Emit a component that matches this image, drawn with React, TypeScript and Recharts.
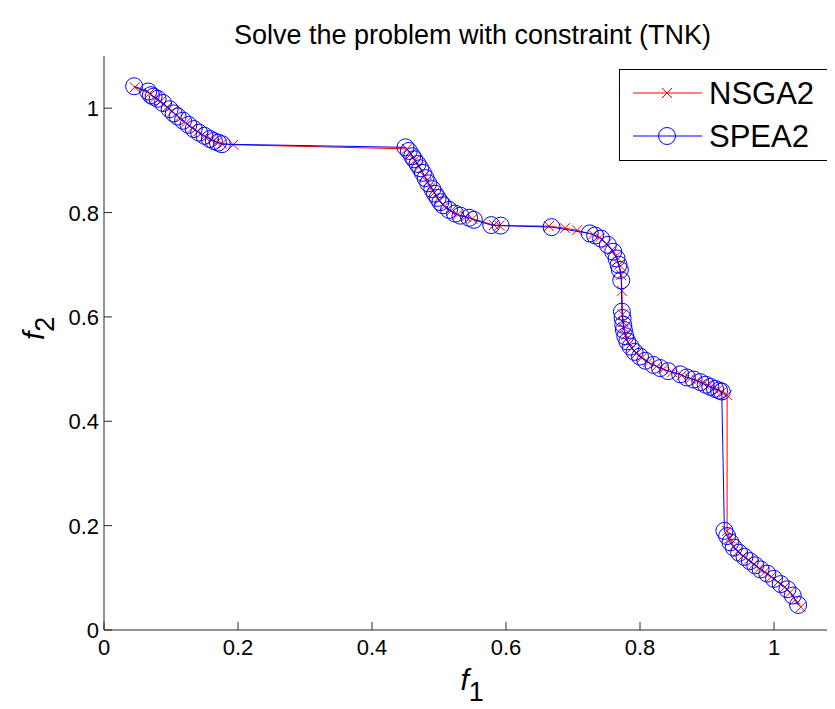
import React from 'react';
import { ScatterChart, Scatter, XAxis, YAxis } from 'recharts';

const chartTitle = 'Solve the problem with constraint (TNK)';
const seriesNames = ['NSGA2', 'SPEA2'];
const xTicks = [0, 0.2, 0.4, 0.6, 0.8, 1];
const yTicks = [0, 0.2, 0.4, 0.6, 0.8, 1];

const nsga2F1 = [
  0.046, 0.068, 0.076, 0.084, 0.094, 0.102, 0.112, 0.122, 0.132, 0.140, 0.150, 0.160, 0.168, 0.176, 0.193,
  0.452, 0.458, 0.464, 0.470, 0.478, 0.483, 0.488, 0.493, 0.500, 0.508, 0.518, 0.528, 0.540, 0.550, 0.582, 0.590,
  0.664, 0.688, 0.706, 0.730, 0.740, 0.750, 0.758, 0.764, 0.769, 0.772, 0.773,
  0.774, 0.775, 0.776, 0.779, 0.782, 0.788, 0.795, 0.803, 0.812, 0.825, 0.835, 0.848, 0.862, 0.875, 0.885, 0.895,
  0.902, 0.910, 0.916, 0.922, 0.930,
  0.930, 0.934, 0.940, 0.946, 0.954, 0.962, 0.970, 0.978, 0.986, 0.996, 1.006, 1.016, 1.024, 1.032, 1.040,
];
const nsga2F2 = [
  1.040, 1.028, 1.020, 1.012, 1.002, 0.994, 0.982, 0.972, 0.962, 0.955, 0.946, 0.940, 0.935, 0.932, 0.930,
  0.922, 0.912, 0.900, 0.888, 0.870, 0.858, 0.848, 0.838, 0.824, 0.812, 0.803, 0.796, 0.792, 0.788, 0.776, 0.775,
  0.774, 0.770, 0.766, 0.758, 0.752, 0.740, 0.728, 0.716, 0.700, 0.680, 0.650,
  0.605, 0.590, 0.578, 0.565, 0.552, 0.540, 0.530, 0.522, 0.513, 0.505, 0.500, 0.494, 0.488, 0.482, 0.478, 0.472,
  0.468, 0.463, 0.460, 0.456, 0.450,
  0.190, 0.176, 0.160, 0.150, 0.142, 0.134, 0.126, 0.118, 0.111, 0.102, 0.092, 0.082, 0.072, 0.058, 0.044,
];

const spea2F1 = [
  0.045, 0.066, 0.070, 0.074, 0.080, 0.088, 0.098, 0.104, 0.110, 0.118, 0.126, 0.134, 0.142, 0.150, 0.158, 0.164, 0.170, 0.176,
  0.450, 0.455, 0.460, 0.463, 0.468, 0.472, 0.476, 0.480, 0.484, 0.490, 0.494, 0.498, 0.502, 0.506, 0.515, 0.524, 0.532, 0.545, 0.552, 0.578, 0.592,
  0.668, 0.725, 0.733, 0.742, 0.752, 0.760, 0.765, 0.768, 0.770, 0.772,
  0.773, 0.774, 0.775, 0.776, 0.778, 0.781, 0.786, 0.792, 0.800, 0.808, 0.820, 0.830, 0.842, 0.860, 0.870, 0.880, 0.890, 0.898,
  0.905, 0.912, 0.918, 0.922,
  0.926, 0.930, 0.935, 0.940, 0.948, 0.956, 0.964, 0.972, 0.980, 0.990, 1.000, 1.010, 1.020, 1.028, 1.036,
];
const spea2F2 = [
  1.042, 1.032, 1.025, 1.022, 1.018, 1.010, 0.998, 0.990, 0.984, 0.976, 0.968, 0.960, 0.953, 0.947, 0.941, 0.937, 0.934, 0.931,
  0.925, 0.918, 0.908, 0.902, 0.893, 0.885, 0.876, 0.866, 0.856, 0.845, 0.836, 0.828, 0.820, 0.814, 0.805, 0.798, 0.794, 0.790, 0.786, 0.776, 0.775,
  0.772, 0.760, 0.756, 0.750, 0.738, 0.725, 0.712, 0.700, 0.690, 0.670,
  0.610, 0.598, 0.585, 0.575, 0.563, 0.553, 0.543, 0.533, 0.524, 0.516, 0.508, 0.502, 0.496, 0.490, 0.484, 0.480, 0.475, 0.470,
  0.466, 0.462, 0.459, 0.457,
  0.190, 0.180, 0.168, 0.158, 0.148, 0.140, 0.132, 0.124, 0.116, 0.108, 0.098, 0.088, 0.078, 0.066, 0.048,
];

const nsga2 = nsga2F1.map((f1, i) => ({ f1, f2: nsga2F2[i] }));
const spea2 = spea2F1.map((f1, i) => ({ f1, f2: spea2F2[i] }));

const FONT = '"Liberation Sans", Arial, Helvetica, sans-serif';
const AXIS = '#262626';
const RED = '#ff0000';
const BLUE = '#0000ff';

const fmt = (v: number) => String(v);

const XTick = (props: any) => {
  const { x, y, payload } = props;
  return (
    <g>
      <line x1={x} y1={y} x2={x} y2={y - 8} stroke={AXIS} strokeWidth={1} />
      <text x={x} y={y + 25} textAnchor="middle" fontSize={22} fontFamily={FONT} fill="#000">
        {fmt(payload.value)}
      </text>
    </g>
  );
};

const YTick = (props: any) => {
  const { x, y, payload } = props;
  return (
    <g>
      <line x1={x} y1={y} x2={x + 8} y2={y} stroke={AXIS} strokeWidth={1} />
      <text x={x - 5} y={y + 8} textAnchor="end" fontSize={22} fontFamily={FONT} fill="#000">
        {fmt(payload.value)}
      </text>
    </g>
  );
};

const Cross = (props: any) => {
  const { cx, cy } = props;
  const s = 5;
  return (
    <path
      d={`M${cx - s},${cy - s}L${cx + s},${cy + s}M${cx - s},${cy + s}L${cx + s},${cy - s}`}
      stroke={RED}
      strokeWidth={1}
      fill="none"
    />
  );
};

const Ring = (props: any) => {
  const { cx, cy } = props;
  return <circle cx={cx} cy={cy} r={8.5} stroke={BLUE} strokeWidth={1} fill="none" />;
};

const XLabel = (props: any) => {
  const vb = props.viewBox;
  const cx = vb.x + vb.width / 2;
  return (
    <text x={cx - 12} y={vb.y + 60} fontFamily={FONT} fill="#000">
      <tspan fontSize={30} fontStyle="italic">f</tspan>
      <tspan fontSize={27} dy={11}>1</tspan>
    </text>
  );
};

const YLabel = (props: any) => {
  const vb = props.viewBox;
  const cy = vb.y + vb.height / 2;
  const x = 36;
  const y = cy - 3;
  return (
    <text x={x} y={y} transform={`rotate(-90, ${x}, ${y})`} fontFamily={FONT} fill="#000">
      <tspan fontSize={30} fontStyle="italic">f</tspan>
      <tspan fontSize={27} dy={10}>2</tspan>
    </text>
  );
};

const LegendBox = () => (
  <div
    style={{
      position: 'absolute',
      left: 611,
      top: 61,
      width: 209,
      height: 92,
      boxSizing: 'border-box',
      border: '1.5px solid #000',
      background: '#fff',
    }}
  >
    <svg width={206} height={89} style={{ display: 'block' }}>
      {seriesNames.map((name, i) => {
        const cy = 23 + i * 43;
        return (
          <g key={name}>
            <line x1={13} y1={cy} x2={82} y2={cy} stroke={i === 0 ? RED : BLUE} strokeWidth={1} />
            {i === 0 ? <Cross cx={47} cy={cy} /> : <Ring cx={47} cy={cy} />}
            <text x={89} y={cy + 11} fontSize={31} fontFamily={FONT} fill="#000">
              {name}
            </text>
          </g>
        );
      })}
    </svg>
  </div>
);

export default function App() {
  return (
    <div style={{ position: 'relative', width: 827, height: 701, overflow: 'hidden', background: '#fff' }}>
      <div
        style={{
          position: 'absolute',
          left: 96,
          width: 737,
          top: 12,
          textAlign: 'center',
          fontFamily: FONT,
          fontSize: 27,
          color: '#000',
          whiteSpace: 'nowrap',
          lineHeight: '30px',
        }}
      >
        {chartTitle}
      </div>
      <ScatterChart width={850} height={701} margin={{ top: 48, right: 17, bottom: 19, left: 0 }}>
        <XAxis
          type="number"
          dataKey="f1"
          domain={[0, 1.1]}
          ticks={xTicks}
          allowDataOverflow
          height={60}
          tickSize={0}
          tickMargin={0}
          tickLine={false}
          tick={<XTick />}
          axisLine={{ stroke: AXIS, strokeWidth: 1 }}
          label={{ content: <XLabel /> } as any}
        />
        <YAxis
          type="number"
          dataKey="f2"
          domain={[0, 1.1]}
          ticks={yTicks}
          allowDataOverflow
          width={96}
          tickSize={0}
          tickMargin={0}
          tickLine={false}
          tick={<YTick />}
          axisLine={{ stroke: AXIS, strokeWidth: 1 }}
          label={{ content: <YLabel /> } as any}
        />
        <Scatter
          name={seriesNames[0]}
          data={nsga2}
          line={{ stroke: RED, strokeWidth: 1 }}
          lineType="joint"
          shape={<Cross />}
          isAnimationActive={false}
        />
        <Scatter
          name={seriesNames[1]}
          data={spea2}
          line={{ stroke: BLUE, strokeWidth: 1 }}
          lineType="joint"
          shape={<Ring />}
          isAnimationActive={false}
        />
      </ScatterChart>
      <LegendBox />
    </div>
  );
}
